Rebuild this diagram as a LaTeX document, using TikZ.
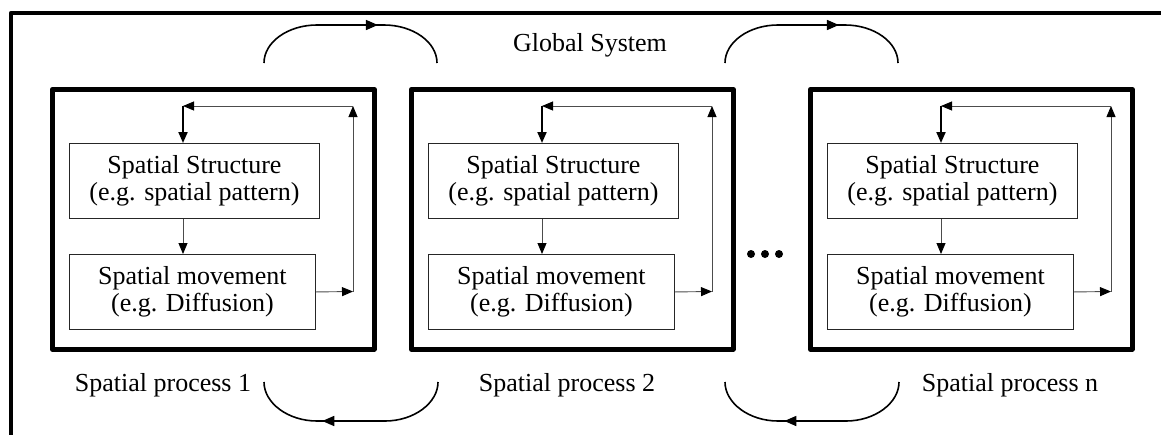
\documentclass[tikz,border=0pt]{standalone}
\usepackage{fontspec}
\setmainfont{Liberation Serif}
\usetikzlibrary{arrows.meta,decorations.markings}
\begin{document}
\begin{tikzpicture}[x=1pt,y=-1pt,
  txt/.style={font=\fontsize{26}{27}\selectfont, align=center, inner sep=0pt},
  frame/.style={line width=4.5pt, line join=round},
  procbox/.style={draw, line width=4.5pt, line join=round, minimum width=322pt,
    minimum height=260pt, anchor=north west, inner sep=0pt},
  stagebox/.style={txt, draw=black!85, line width=0.9pt, minimum height=75pt,
    anchor=north west},
  thinarrow/.style={draw=black!70, line width=0.9pt,
    -{Triangle[length=11pt,width=9pt,color=black]}},
  thickarrow/.style={line width=2pt, -{Triangle[length=11pt,width=9pt]}},
  exchange/.style={line width=1.6pt, postaction=decorate,
    decoration={markings, mark=at position #1 with
      {\arrow{Triangle[length=12pt,width=10pt]}}}},
]
\useasboundingbox (0,0) rectangle (1161,434);

% global system frame (open to the right and bottom)
\draw[frame] (11,440) -- (11,13) -- (1170,13);
\node[txt] (G) at (590,45) {Global System};

% the spatial processes
\foreach \i/\L in {1/50, 2/409, 3/808} {
  \node[procbox] (P\i) at (\L,87) {};
  \node[stagebox, minimum width=250pt] (S\i) at (\L+19,143)
    {Spatial Structure\\(e.g. spatial pattern)};
  \node[stagebox, minimum width=246pt] (M\i) at (\L+19,254)
    {Spatial movement\\(e.g. Diffusion)};
  \coordinate (T\i) at (\L+133,106);
  \coordinate (C\i) at (\L+303,106);
  \coordinate (B\i) at (\L+303,291.5);
  \draw[thinarrow] (S\i.south -| T\i) -- (M\i.north -| T\i);
  \draw[thinarrow] (M\i.east) -- (B\i);
  \draw[thinarrow] (B\i) -- (C\i);
  \draw[thinarrow] (C\i) -- (T\i);
  \draw[thickarrow] (T\i) -- (S\i.north -| T\i);
}

\node[txt] (L1) at (163,385) {Spatial process 1};
\node[txt] (L2) at (567,385) {Spatial process 2};
\node[txt] (L3) at (1010,385) {Spatial process n};

% ellipsis between process 2 and process n
\fill (751,254) circle (4) (765,254) circle (4) (779,254) circle (4);

% exchange arcs above (left to right) and below (right to left)
\coordinate (UA1) at (264,63);  \coordinate (UB1) at (437,63);
\coordinate (UA2) at (725,63);  \coordinate (UB2) at (898,63);
\coordinate (DA1) at (438,382); \coordinate (DB1) at (264,382);
\coordinate (DA2) at (899,382); \coordinate (DB2) at (725,382);

\draw[exchange=0.63] (UA1) .. controls (264,42) and (288,25) .. (317,25)
  -- (384,25) .. controls (413,25) and (437,42) .. (UB1);
\draw[exchange=0.63] (UA2) .. controls (725,42) and (749,25) .. (778,25)
  -- (845,25) .. controls (874,25) and (898,42) .. (UB2);
\draw[exchange=0.635] (DA1) .. controls (438,403) and (414,421) .. (385,421)
  -- (317,421) .. controls (288,421) and (264,403) .. (DB1);
\draw[exchange=0.63] (DA2) .. controls (899,403) and (875,421) .. (846,421)
  -- (778,421) .. controls (749,421) and (725,403) .. (DB2);
\end{tikzpicture}
\end{document}
